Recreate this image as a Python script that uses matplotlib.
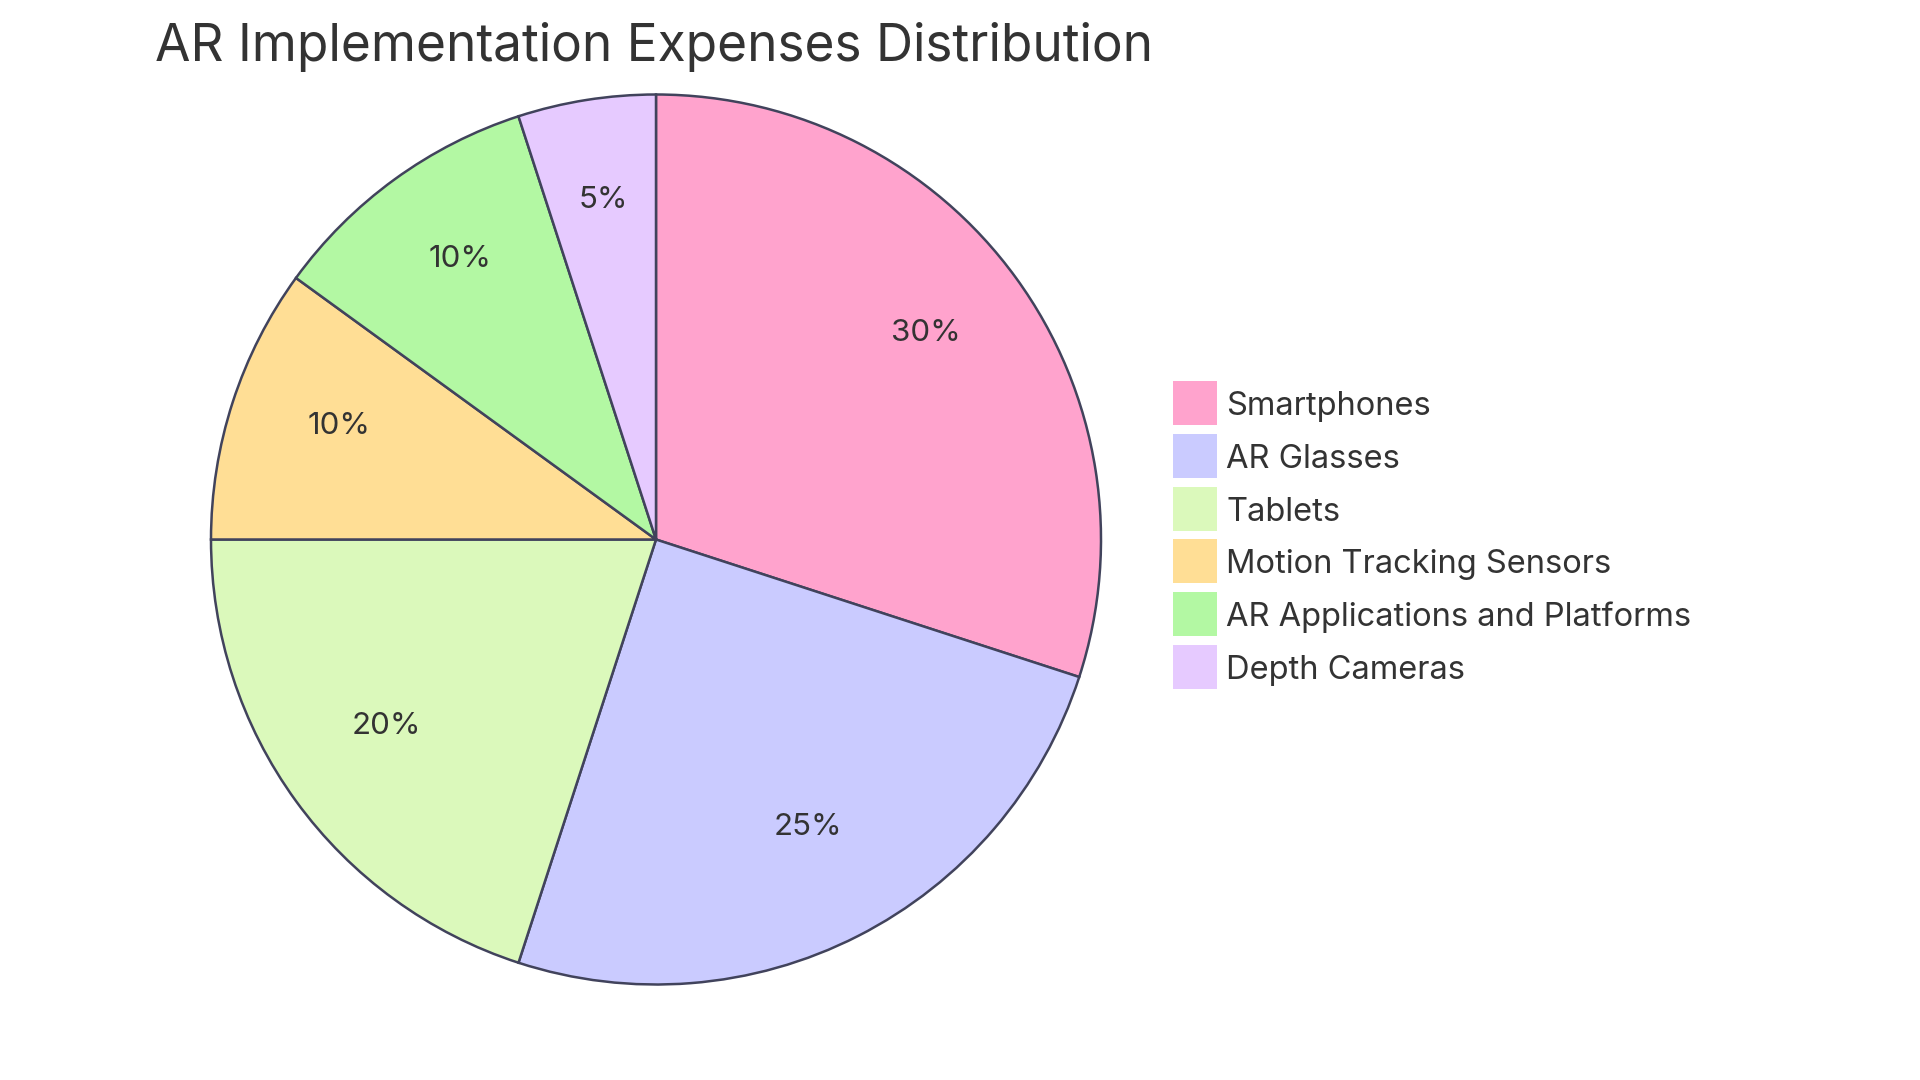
import matplotlib
matplotlib.use("Agg")
import matplotlib.pyplot as plt
from matplotlib.patches import Rectangle

categories = ["Smartphones", "AR Glasses", "Tablets", "Motion Tracking Sensors",
              "AR Applications and Platforms", "Depth Cameras"]
values = [30, 25, 20, 10, 10, 5]
colors = ["#FFA3CD", "#CACBFF", "#DBF9BB", "#FFDE95", "#B3F8A3", "#E6CAFF"]
title = "AR Implementation Expenses Distribution"

plt.rcParams['font.family'] = ['Inter', 'DejaVu Sans']
W, H = 1920, 1080
fig = plt.figure(figsize=(19.2, 10.8), dpi=100)
fig.patch.set_facecolor('white')

cx, cy, r = 656, 539.5, 445
ax = fig.add_axes([(cx - r) / W, (H - cy - r) / H, 2 * r / W, 2 * r / H])
wedges, texts, autotexts = ax.pie(
    values, colors=colors, startangle=90, counterclock=False,
    autopct=lambda p: f"{p:.0f}%", pctdistance=0.75, radius=1,
    wedgeprops=dict(edgecolor="#41435c", linewidth=1.8, clip_on=False),
    textprops=dict(fontsize=22.5, color="#333333"))
for t in autotexts:
    x, y = t.get_position()
    t.set_position((x, y + 10 / r))
ax.set_xlim(-1, 1)
ax.set_ylim(-1, 1)
ax.set_aspect('equal')
ax.axis('off')

fig.text(155 / W, 1 - 61 / H, title, fontsize=37, color="#333333",
         ha='left', va='baseline')

# legend
sq_x, sq_w, sq_h = 1173, 44, 44
row0, step = 403, 52.8
for i, (lab, col) in enumerate(zip(categories, colors)):
    yc = row0 + i * step
    fig.add_artist(Rectangle((sq_x / W, (H - yc - sq_h / 2) / H), sq_w / W, sq_h / H,
                             transform=fig.transFigure, facecolor=col, edgecolor='none'))
    fig.text(1226 / W, 1 - yc / H, lab, fontsize=23.5, color="#333333",
             ha='left', va='center_baseline')

fig.savefig("out.png", dpi=100)
